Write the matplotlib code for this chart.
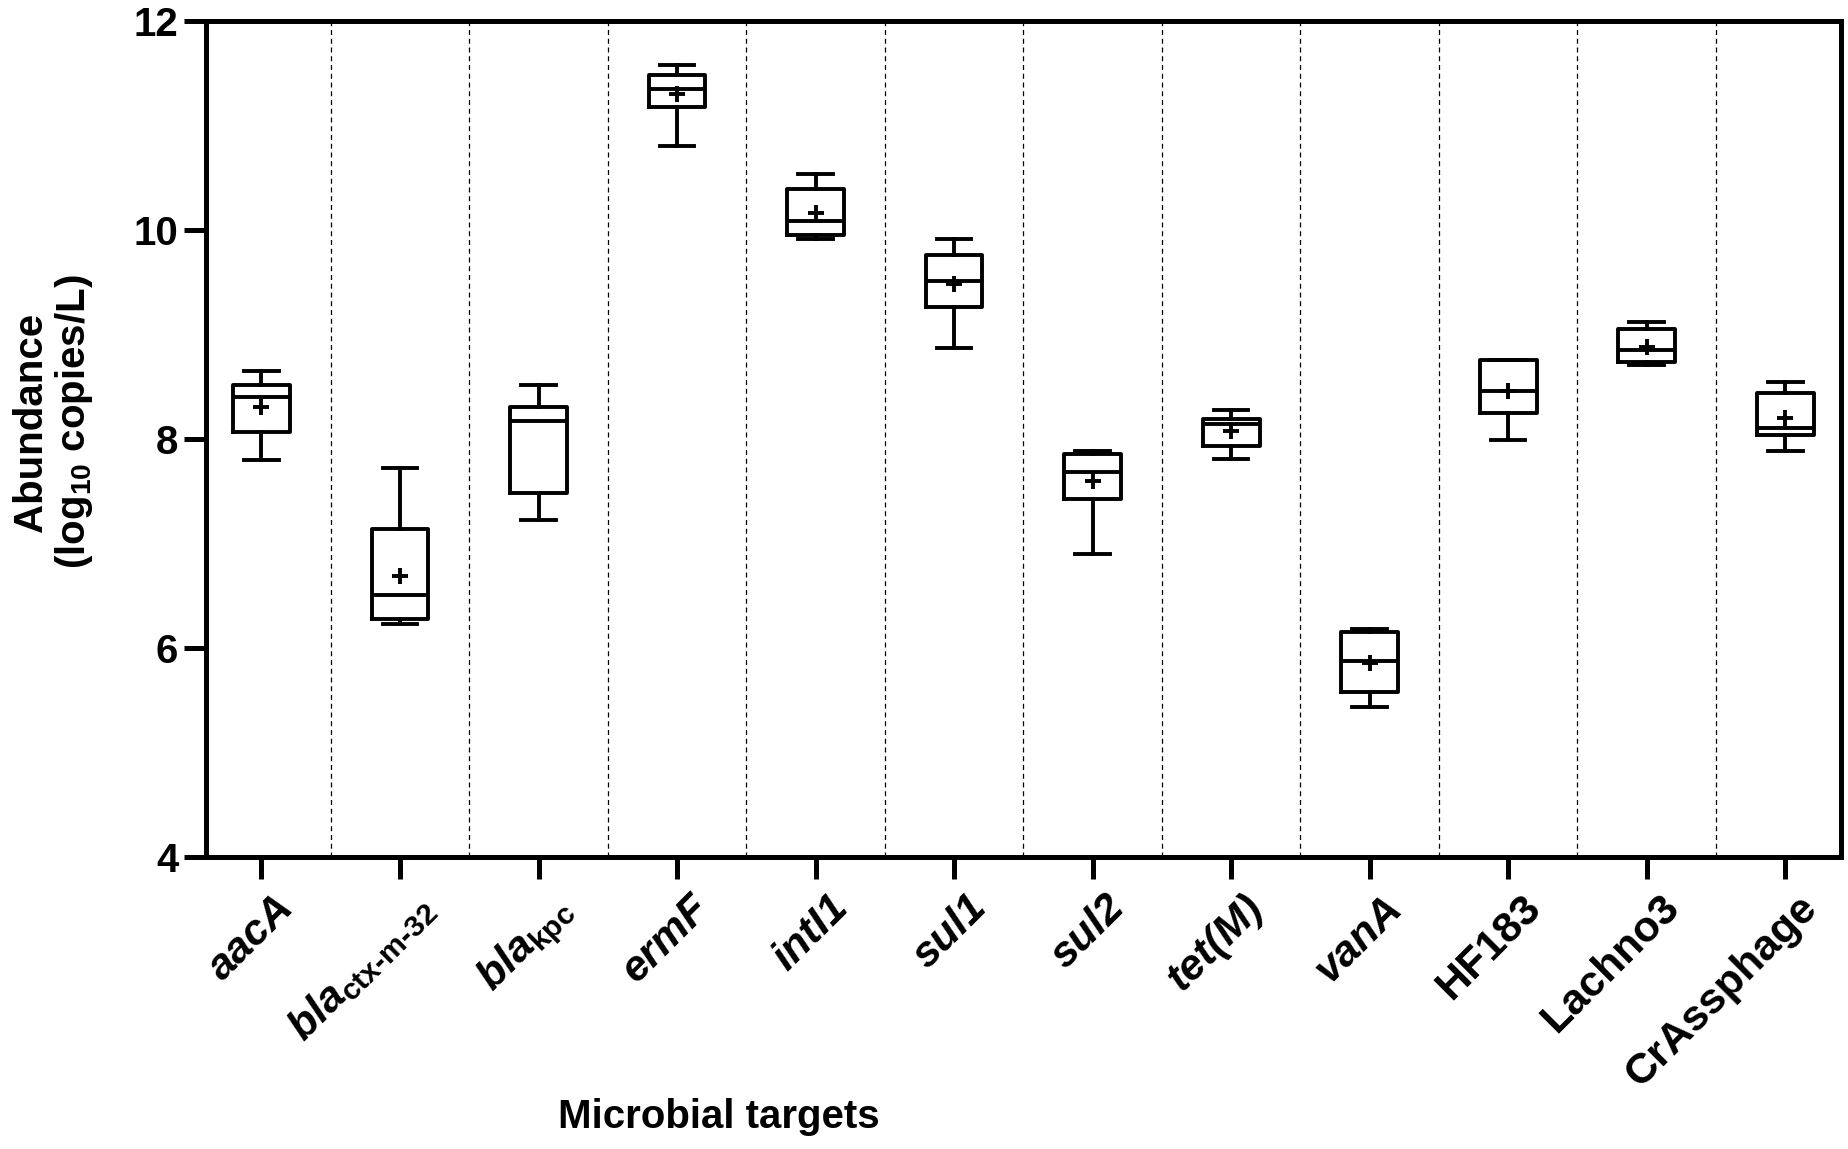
import numpy as np
import matplotlib
matplotlib.use("Agg")
import matplotlib.pyplot as plt
from matplotlib.transforms import ScaledTranslation

plt.rcParams['font.family'] = ['Liberation Sans', 'DejaVu Sans']
plt.rcParams['font.weight'] = 'bold'
plt.rcParams['mathtext.fontset'] = 'custom'
plt.rcParams['mathtext.rm'] = 'Liberation Sans:bold'
plt.rcParams['mathtext.it'] = 'Liberation Sans:italic:bold'
plt.rcParams['mathtext.bf'] = 'Liberation Sans:bold'

# values (log10 copies/L)
targets = ['aacA', 'bla_ctx', 'bla_kpc', 'ermF', 'intI1', 'sul1', 'sul2',
           'tet(M)', 'vanA', 'HF183', 'Lachno3', 'CrAssphage']
tick_labels = ['aacA', r'$bla_{\text{ctx-m-32}}$', r'$bla_{\text{kpc}}$', 'ermF',
               'intI1', 'sul1', 'sul2', 'tet(M)', 'vanA', 'HF183', 'Lachno3',
               'CrAssphage']
italic = [True, True, True, True, True, True, True, True, True, False, False, False]

whisker_hi = [8.65, 7.72, 8.52, 11.58, 10.53, 9.91, 7.88, 8.28, 6.18, 8.75, 9.12, 8.54]
q3 = [8.52, 7.14, 8.31, 11.48, 10.39, 9.76, 7.86, 8.19, 6.15, 8.75, 9.05, 8.44]
median = [8.40, 6.51, 8.17, 11.35, 10.08, 9.51, 7.68, 8.14, 5.88, 8.46, 8.85, 8.10]
mean = [8.31, 6.69, np.nan, 11.30, 10.16, 9.48, 7.60, 8.08, 5.86, 8.46, 8.88, 8.20]
q1 = [8.07, 6.28, 7.48, 11.17, 9.95, 9.26, 7.43, 7.93, 5.58, 8.25, 8.74, 8.04]
whisker_lo = [7.80, 6.23, 7.22, 10.80, 9.91, 8.87, 6.90, 7.81, 5.44, 7.99, 8.71, 7.88]

stats = []
for i, name in enumerate(targets):
    stats.append({'label': name, 'whishi': whisker_hi[i], 'q3': q3[i],
                  'med': median[i], 'mean': mean[i], 'q1': q1[i],
                  'whislo': whisker_lo[i], 'fliers': []})

fig = plt.figure(figsize=(18.48, 11.49), dpi=100)
ax = fig.add_axes([0.1115, 0.254, 0.8845, 0.728])

lw = 2.8
x = np.arange(len(targets))
ax.bxp(stats, positions=x, widths=0.41, showmeans=True, showfliers=False,
       patch_artist=False,
       boxprops=dict(color='black', linewidth=lw),
       medianprops=dict(color='black', linewidth=lw),
       whiskerprops=dict(color='black', linewidth=lw),
       capprops=dict(color='black', linewidth=lw),
       meanprops=dict(marker='+', markersize=11, markeredgewidth=2.8,
                      markeredgecolor='black'),
       capwidths=0.25)

for sep in x[:-1] + 0.5:
    ax.axvline(sep, color='black', linestyle=(0, (4, 3)), linewidth=0.9, zorder=0)

ax.set_xlim(-0.4, 11.4)
ax.set_ylim(4, 12)
ax.set_yticks([4, 6, 8, 10, 12])
ax.set_xticks(x)

for sp in ax.spines.values():
    sp.set_linewidth(3.6)
ax.tick_params(axis='both', width=3.6, length=16, direction='out')
ax.tick_params(axis='y', labelsize=29, pad=4)
ax.tick_params(axis='x', pad=6)

ax.set_xticklabels(tick_labels, rotation=45, ha='right', rotation_mode='anchor',
                   fontsize=31)
shift = ScaledTranslation(0.12, 0.0, fig.dpi_scale_trans)
for lab, it in zip(ax.get_xticklabels(), italic):
    if it:
        lab.set_fontstyle('italic')
    lab.set_transform(lab.get_transform() + shift)

ax.set_ylabel('Abundance\n(log$_{10}$ copies/L)', fontsize=29, fontweight='bold',
              linespacing=1.1)
ax.yaxis.set_label_coords(-0.068, 0.52)
fig.text(0.389, 0.028, 'Microbial targets', fontsize=29, fontweight='bold',
         ha='center', va='center')

fig.savefig('out.png', dpi=100)
